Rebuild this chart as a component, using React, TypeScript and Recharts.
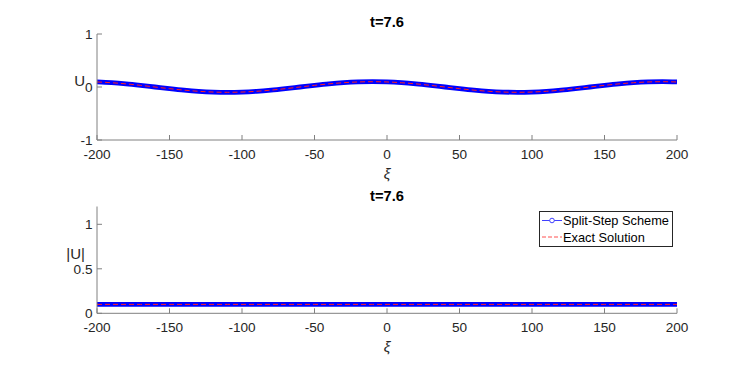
import { LineChart, Line, XAxis, YAxis, Legend, Label } from "recharts"

// sample positions along xi and the values
const xi = [
  -200, -190, -180, -170, -160, -150, -140, -130, -120, -110, -100, -90, -80, -70,
  -60, -50, -40, -30, -20, -10, 0, 10, 20, 30, 40, 50, 60, 70, 80, 90, 100, 110,
  120, 130, 140, 150, 160, 170, 180, 190, 200,
]
const uSplit = [
  0.095, 0.081, 0.059, 0.031, 0.0, -0.031, -0.059, -0.081, -0.095, -0.1, -0.095,
  -0.081, -0.059, -0.031, 0.0, 0.031, 0.059, 0.081, 0.095, 0.1, 0.095, 0.081,
  0.059, 0.031, 0.0, -0.031, -0.059, -0.081, -0.095, -0.1, -0.095, -0.081, -0.059,
  -0.031, 0.0, 0.031, 0.059, 0.081, 0.095, 0.1, 0.095,
]
const uExact = [
  0.095, 0.081, 0.059, 0.031, 0.0, -0.031, -0.059, -0.081, -0.095, -0.1, -0.095,
  -0.081, -0.059, -0.031, 0.0, 0.031, 0.059, 0.081, 0.095, 0.1, 0.095, 0.081,
  0.059, 0.031, 0.0, -0.031, -0.059, -0.081, -0.095, -0.1, -0.095, -0.081, -0.059,
  -0.031, 0.0, 0.031, 0.059, 0.081, 0.095, 0.1, 0.095,
]
const absSplit = [
  0.1, 0.1, 0.1, 0.1, 0.1, 0.1, 0.1, 0.1, 0.1, 0.1, 0.1, 0.1, 0.1, 0.1, 0.1, 0.1,
  0.1, 0.1, 0.1, 0.1, 0.1, 0.1, 0.1, 0.1, 0.1, 0.1, 0.1, 0.1, 0.1, 0.1, 0.1, 0.1,
  0.1, 0.1, 0.1, 0.1, 0.1, 0.1, 0.1, 0.1, 0.1,
]
const absExact = [
  0.1, 0.1, 0.1, 0.1, 0.1, 0.1, 0.1, 0.1, 0.1, 0.1, 0.1, 0.1, 0.1, 0.1, 0.1, 0.1,
  0.1, 0.1, 0.1, 0.1, 0.1, 0.1, 0.1, 0.1, 0.1, 0.1, 0.1, 0.1, 0.1, 0.1, 0.1, 0.1,
  0.1, 0.1, 0.1, 0.1, 0.1, 0.1, 0.1, 0.1, 0.1,
]

const xTicks = [-200, -150, -100, -50, 0, 50, 100, 150, 200]
const uTicks = [-1, 0, 1]
const absTicks = [0, 0.5, 1]
const titleText = "t=7.6"
const splitName = "Split-Step Scheme"
const exactName = "Exact Solution"

const topData = xi.map((x, i) => ({ xi: x, split: uSplit[i], exact: uExact[i] }))
const bottomData = xi.map((x, i) => ({ xi: x, split: absSplit[i], exact: absExact[i] }))

const AXIS = "#808080"
const TEXT = "#262626"
const FONT = "Liberation Sans, Arial, Helvetica, sans-serif"
const TICK_LEN = 5
const PLOT_W = 580

// MATLAB style: ticks point into the box on all four sides
function BottomTick(props: any) {
  const { x, y, payload } = props
  return (
    <g>
      <line x1={x} x2={x} y1={y} y2={y - TICK_LEN} stroke={AXIS} />
      <text x={x} y={y + 18.5} textAnchor="middle" fill={TEXT} fontSize={13.6} fontFamily={FONT}>
        {payload.value}
      </text>
    </g>
  )
}

function TopTick(props: any) {
  const { x, y } = props
  return <line x1={x} x2={x} y1={y} y2={y + TICK_LEN} stroke={AXIS} />
}

function LeftTick(props: any) {
  const { x, y, payload } = props
  return (
    <g>
      <line x1={x} x2={x + TICK_LEN} y1={y} y2={y} stroke={AXIS} />
      <text x={x - 4.5} y={y + 4.8} textAnchor="end" fill={TEXT} fontSize={13.6} fontFamily={FONT}>
        {payload.value}
      </text>
    </g>
  )
}

function RightTick(props: any) {
  const { x, y } = props
  return <line x1={x} x2={x - TICK_LEN} y1={y} y2={y} stroke={AXIS} />
}

function xiLabel(props: any) {
  const vb = props.viewBox
  return (
    <text x={vb.x + vb.width / 2} y={vb.y + 39} textAnchor="middle" fill={TEXT} fontSize={15} fontStyle="italic" fontFamily={FONT}>
      ξ
    </text>
  )
}

// y label plus the panel title, both placed from the left axis box
function sideLabels(text: string, titleGap: number) {
  return (props: any) => {
    const vb = props.viewBox
    const left = vb.x + vb.width
    return (
      <g>
        <text x={left - 12} y={vb.y + vb.height / 2 - 1} textAnchor="end" fill={TEXT} fontSize={15} fontFamily={FONT}>
          {text}
        </text>
        <text x={left + PLOT_W / 2} y={vb.y - titleGap} textAnchor="middle" fill="#000" fontSize={14.7} fontWeight="bold" fontFamily={FONT}>
          {titleText}
        </text>
      </g>
    )
  }
}

function LegendBox() {
  return (
    <svg width={134} height={36} style={{ display: "block" }}>
      <rect x={0.5} y={0.5} width={133} height={35} fill="#fff" stroke="#262626" strokeWidth={1} />
      <line x1={3} x2={23} y1={9.5} y2={9.5} stroke="#4040ff" strokeWidth={1} />
      <circle cx={13} cy={9.5} r={2.3} fill="#fff" stroke="#4040ff" strokeWidth={1} />
      <line x1={3} x2={23} y1={26} y2={26} stroke="#ff5050" strokeWidth={1} strokeDasharray="4 2" />
      <text x={24} y={14.3} fill="#000" fontSize={12.8} fontFamily={FONT}>
        {splitName}
      </text>
      <text x={24} y={30.8} fill="#000" fontSize={12.8} fontFamily={FONT}>
        {exactName}
      </text>
    </svg>
  )
}

function Panel({ data, yTicks, yDomain, yText, top, height, margin, titleGap, legend }: any) {
  return (
    <div style={{ position: "absolute", left: 0, top }}>
      <LineChart width={747} height={height} data={data} margin={margin}>
        <XAxis
          dataKey="xi"
          type="number"
          domain={[-200, 200]}
          ticks={xTicks}
          interval={0}
          height={25}
          tickSize={0}
          tickMargin={0}
          axisLine={{ stroke: AXIS }}
          tickLine={false}
          tick={BottomTick}
        >
          <Label content={xiLabel} />
        </XAxis>
        <XAxis
          xAxisId="top"
          orientation="top"
          dataKey="xi"
          type="number"
          domain={[-200, 200]}
          ticks={xTicks}
          interval={0}
          height={0}
          tickSize={0}
          tickMargin={0}
          axisLine={{ stroke: AXIS }}
          tickLine={false}
          tick={TopTick}
        />
        <YAxis
          type="number"
          domain={yDomain}
          ticks={yTicks}
          interval={0}
          width={30}
          tickSize={0}
          tickMargin={0}
          axisLine={{ stroke: AXIS }}
          tickLine={false}
          tick={LeftTick}
        >
          <Label content={sideLabels(yText, titleGap)} />
        </YAxis>
        <YAxis
          yAxisId="right"
          orientation="right"
          type="number"
          domain={yDomain}
          ticks={yTicks}
          interval={0}
          width={0}
          tickSize={0}
          tickMargin={0}
          axisLine={{ stroke: AXIS }}
          tickLine={false}
          tick={RightTick}
        />
        {legend && (
          <Legend
            layout="horizontal"
            verticalAlign="middle"
            align="center"
            content={() => <LegendBox />}
            wrapperStyle={{ left: 539, top: 29, width: 134, height: 36 }}
          />
        )}
        <Line
          type="monotone"
          dataKey="split"
          name={splitName}
          stroke="#0000ff"
          strokeWidth={4.8}
          dot={false}
          isAnimationActive={false}
        />
        <Line
          type="monotone"
          dataKey="exact"
          name={exactName}
          stroke="#ff2020"
          strokeWidth={1}
          strokeDasharray="5 3"
          dot={false}
          isAnimationActive={false}
        />
      </LineChart>
    </div>
  )
}

export default function App() {
  return (
    <div style={{ position: "absolute", left: 0, top: 0, width: 747, height: 365, background: "#fff" }}>
      <Panel
        data={topData}
        yTicks={uTicks}
        yDomain={[-1, 1]}
        yText="U"
        top={0}
        height={182}
        titleGap={7}
        margin={{ top: 34, right: 70, bottom: 17, left: 67 }}
      />
      <Panel
        data={bottomData}
        yTicks={absTicks}
        yDomain={[0, 1.2]}
        yText="|U|"
        top={182}
        height={183}
        titleGap={6}
        margin={{ top: 24.5, right: 70, bottom: 26.7, left: 67 }}
        legend
      />
    </div>
  )
}
